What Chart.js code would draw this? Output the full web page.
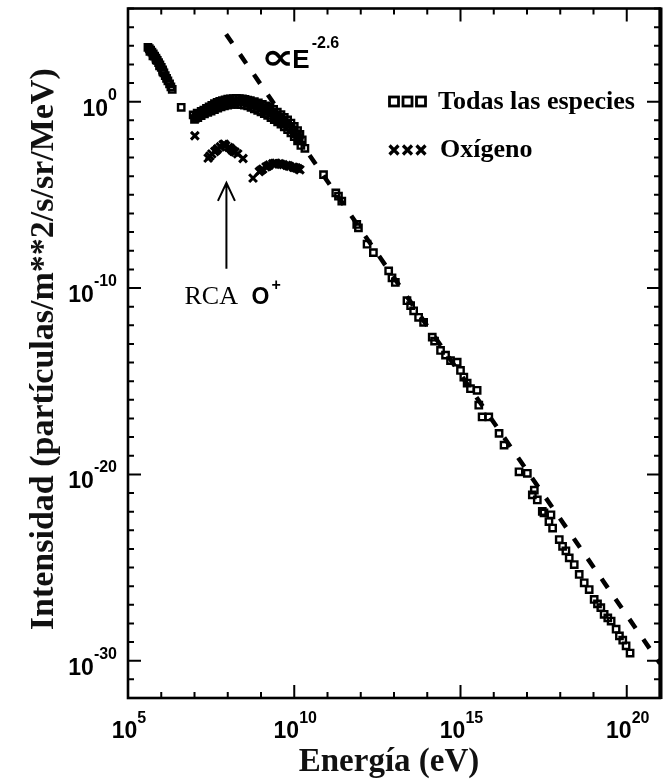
<!DOCTYPE html>
<html>
<head>
<meta charset="utf-8">
<title>Espectro de rayos cósmicos</title>
<script src="https://cdn.jsdelivr.net/npm/chart.js@4.4.0/dist/chart.umd.min.js"></script>
<style>
  html, body { margin: 0; padding: 0; background: #fff; }
  canvas { display: block; }
</style>
</head>
<body>
<canvas id="spectrumChart" width="669" height="782"></canvas>
<script>
// Spectrum values kept as base-10 exponents: log10(E / eV) and log10(intensity)
const allSpeciesLogE = [
  // low-energy side
  5.60, 5.64, 5.68, 5.72, 5.76, 5.80, 5.84, 5.88, 5.92, 5.96, 6.00, 6.04, 6.08, 6.12,
  6.16, 6.20, 6.25, 6.29, 6.33, 5.66, 5.75, 5.85, 5.95, 6.05, 6.60,
  // bump, upper run
  6.96, 7.03, 7.08, 7.15, 7.20, 7.28, 7.36, 7.44, 7.52, 7.60, 7.68, 7.76, 7.84, 7.92,
  8.00, 8.08, 8.17, 8.26, 8.35, 8.44, 8.52, 8.60, 8.68, 8.80, 8.92, 9.04, 9.16, 9.27,
  9.38, 9.49, 9.60, 9.70, 9.80, 9.90, 10.00, 10.10, 10.17, 10.24, 10.32,
  // bump, middle run
  7.05, 7.15, 7.25, 7.35, 7.45, 7.55, 7.65, 7.75, 7.85, 7.95, 8.05, 8.15, 8.25, 8.35,
  8.45, 8.55, 8.65, 8.75, 8.85, 8.95, 9.05, 9.15, 9.25, 9.35, 9.45, 9.55, 9.65, 9.75,
  9.85, 9.95, 10.05, 10.15,
  // bump, lower run
  7.00, 7.10, 7.20, 7.30, 7.40, 7.50, 7.60, 7.70, 7.80, 7.90, 8.00, 8.10, 8.20, 8.30,
  8.40, 8.50, 8.60, 8.70, 8.80, 8.90, 9.00, 9.10, 9.20, 9.30, 9.40, 9.50, 9.60, 9.70,
  9.80, 9.90, 10.00, 10.10, 10.20,
  // high-energy power law
  10.88, 11.25, 11.33, 11.43, 11.88, 11.93, 12.19, 12.38, 12.84, 12.94, 13.04, 13.39,
  13.50, 13.59, 13.74, 13.89, 14.15, 14.22, 14.40, 14.55, 14.70, 14.90, 15.00, 15.10,
  15.20, 15.30, 15.50, 15.55, 15.65, 15.85, 16.16, 16.31, 16.76, 17.01, 17.16, 17.22,
  17.31, 17.46, 17.51, 17.66, 17.72, 17.77, 17.97, 18.07, 18.17, 18.27, 18.42, 18.57,
  18.72, 18.87, 19.02, 19.12, 19.22, 19.32, 19.43, 19.53, 19.68, 19.78, 19.88, 19.98, 20.10
];
const allSpeciesLogI = [
  2.92, 2.84, 2.76, 2.66, 2.56, 2.45, 2.34, 2.22, 2.10, 1.97, 1.84, 1.70, 1.55, 1.40,
  1.25, 1.12, 0.95, 0.80, 0.66, 2.70, 2.46, 2.24, 1.92, 1.60, -0.30,
  -0.71, -0.88, -0.62, -0.72, -0.52, -0.45, -0.36, -0.28, -0.20, -0.10, -0.04, 0.02, 0.06, 0.10,
  0.13, 0.15, 0.17, 0.18, 0.17, 0.15, 0.12, 0.08, 0.05, 0.00, -0.07, -0.14, -0.22, -0.30,
  -0.42, -0.56, -0.70, -0.84, -0.98, -1.15, -1.33, -1.55, -1.75, -2.05, -2.50,
  -0.82, -0.72, -0.62, -0.54, -0.46, -0.38, -0.30, -0.22, -0.15, -0.09, -0.05, -0.02, 0.00, 0.01,
  0.00, -0.02, -0.06, -0.12, -0.18, -0.25, -0.33, -0.42, -0.52, -0.63, -0.75, -0.88, -1.02, -1.17,
  -1.33, -1.52, -1.73, -1.98,
  -0.95, -0.85, -0.75, -0.65, -0.58, -0.50, -0.42, -0.35, -0.28, -0.22, -0.18, -0.15, -0.14, -0.14,
  -0.16, -0.19, -0.23, -0.30, -0.38, -0.46, -0.55, -0.64, -0.74, -0.85, -0.96, -1.08, -1.20, -1.35,
  -1.50, -1.68, -1.88, -2.10, -2.35,
  -3.92, -4.90, -5.07, -5.34, -6.59, -6.77, -7.65, -8.10, -9.08, -9.45, -9.70, -10.68,
  -10.95, -11.22, -11.57, -11.84, -12.64, -12.85, -13.35, -13.60, -13.89, -13.98, -14.42, -14.78,
  -15.10, -15.40, -15.49, -16.29, -16.92, -16.92, -17.80, -18.43, -19.86, -19.94, -21.10, -20.85,
  -21.37, -21.99, -22.07, -22.53, -22.17, -22.88, -23.50, -23.86, -24.10, -24.48, -24.84, -25.37,
  -25.82, -26.18, -26.71, -26.95, -27.15, -27.51, -27.70, -27.87, -28.31, -28.67, -28.90, -29.20, -29.59
];
const oxygenLogE = [
  7.01, 7.41, 7.46, 7.52, 7.61, 7.66, 7.70, 7.78, 7.86, 7.90, 7.94, 8.03, 8.08, 8.12,
  8.17, 8.22, 8.30, 8.46,
  8.76, 8.95, 9.00, 9.05, 9.15, 9.20, 9.25, 9.35, 9.40, 9.45, 9.55, 9.60, 9.67, 9.77,
  9.82, 9.87, 9.97, 10.02, 10.07, 10.12, 10.17
];
const oxygenLogI = [
  -1.83, -3.03, -2.92, -2.80, -2.67, -2.60, -2.52, -2.42, -2.30, -2.28, -2.36, -2.45, -2.50, -2.58,
  -2.66, -2.70, -2.80, -3.05,
  -4.10, -3.75, -3.68, -3.62, -3.50, -3.46, -3.40, -3.33, -3.32, -3.30, -3.33, -3.36, -3.38, -3.42,
  -3.44, -3.47, -3.52, -3.54, -3.56, -3.60, -3.65
];
// E^-2.6 reference line, its two ends
const powerLawLogE = [7.95, 21.0];
const powerLawLogI = [3.62, -30.15];

const xMajorExps = [5, 10, 15, 20];
const yMajorExps = [0, -10, -20, -30];
const seriesLabels = ['Todas las especies', 'Oxígeno'];
const xTitle = 'Energía (eV)';
const yTitle = 'Intensidad (partículas/m**2/s/sr/MeV)';

const toPoints = (es, is) => es.map((e, i) => ({ x: 10 ** e, y: 10 ** is[i] }));

const SANS = '"Liberation Sans", Arial, sans-serif';
const SERIF = '"Liberation Serif", "Times New Roman", serif';

// Boxed frame with inward ticks, power-of-ten labels, titles, legend and notes
const framePlugin = {
  id: 'frame',
  afterDraw(chart) {
    const { ctx, chartArea: a, scales: { x, y } } = chart;
    const px = (le) => x.getPixelForValue(10 ** le);
    const py = (li) => y.getPixelForValue(10 ** li);
    ctx.save();
    ctx.strokeStyle = '#000';
    ctx.fillStyle = '#000';

    // ticks on all four sides, one per decade
    ctx.lineWidth = 2;
    ctx.beginPath();
    for (let e = 5; e <= 21; e++) {
      const X = px(e);
      const len = xMajorExps.includes(e) ? 13 : 6;
      ctx.moveTo(X, a.bottom); ctx.lineTo(X, a.bottom - len);
      ctx.moveTo(X, a.top); ctx.lineTo(X, a.top + len);
    }
    for (let e = -32; e <= 5; e++) {
      const Y = py(e);
      const len = yMajorExps.includes(e) ? 13 : 6;
      ctx.moveTo(a.left, Y); ctx.lineTo(a.left + len, Y);
      ctx.moveTo(a.right, Y); ctx.lineTo(a.right - len, Y);
    }
    ctx.stroke();

    ctx.lineWidth = 2.6;
    ctx.strokeRect(a.left, a.top, a.right - a.left, a.bottom - a.top);
    ctx.lineWidth = 4;
    ctx.beginPath();
    ctx.moveTo(a.right + 0.5, a.top - 1); ctx.lineTo(a.right + 0.5, a.bottom + 1);
    ctx.stroke();

    // tick labels 10^n
    const baseFont = 'bold 23px ' + SANS;
    const supFont = 'bold 16px ' + SANS;
    ctx.textBaseline = 'alphabetic';
    xMajorExps.forEach((e) => {
      const X = px(e);
      ctx.font = baseFont; const wb = ctx.measureText('10').width;
      ctx.font = supFont; const ws = ctx.measureText(String(e)).width;
      const x0 = X - (wb + ws) / 2 + 1;
      ctx.textAlign = 'left';
      ctx.font = baseFont; ctx.fillText('10', x0, a.bottom + 40);
      ctx.font = supFont; ctx.fillText(String(e), x0 + wb, a.bottom + 25);
    });
    yMajorExps.forEach((e) => {
      const Y = py(e);
      ctx.textAlign = 'right';
      ctx.font = supFont; const ws = ctx.measureText(String(e)).width;
      ctx.fillText(String(e), a.left - 11, Y - 2);
      ctx.font = baseFont; ctx.fillText('10', a.left - 11 - ws, Y + 14);
    });

    // axis titles
    ctx.fillStyle = '#111';
    ctx.textAlign = 'center';
    ctx.font = 'bold 33px ' + SERIF;
    ctx.fillText(xTitle, (a.left + a.right) / 2 - 5, a.bottom + 73);
    ctx.save();
    ctx.translate(a.left - 75, (a.top + a.bottom) / 2 - 4);
    ctx.rotate(-Math.PI / 2);
    ctx.font = 'bold 34px ' + SERIF;
    ctx.fillText(yTitle, 0, 0);
    ctx.restore();
    ctx.fillStyle = '#000';

    // legend
    const lx = a.right - 272;
    const rowSq = a.top + 93;
    const rowX = a.top + 141.5;
    for (let k = 0; k < 3; k++) {
      const cx = lx + 6 + k * 13.5;
      ctx.lineWidth = 2.8;
      ctx.strokeRect(cx - 4.5, rowSq - 4.5, 9, 9);
      ctx.lineWidth = 3.2;
      ctx.beginPath();
      ctx.moveTo(cx - 4.5, rowX - 4.5); ctx.lineTo(cx + 4.5, rowX + 4.5);
      ctx.moveTo(cx + 4.5, rowX - 4.5); ctx.lineTo(cx - 4.5, rowX + 4.5);
      ctx.stroke();
    }
    ctx.textAlign = 'left';
    ctx.font = 'bold 26px ' + SERIF;
    ctx.fillText(seriesLabels[0], a.right - 222, a.top + 100);
    ctx.fillText(seriesLabels[1], a.right - 220, a.top + 148.5);

    // proportionality note next to the dashed line
    const sx = px(9.06), sy = py(1.82);
    ctx.font = 'bold 36px "DejaVu Sans", sans-serif';
    const wProp = ctx.measureText('∝').width * 1.3;
    ctx.save();
    ctx.translate(sx - 2, sy + 1);
    ctx.scale(1.3, 1);
    ctx.fillText('∝', 0, 0);
    ctx.restore();
    ctx.font = 'bold 26px ' + SANS;
    ctx.fillText('E', sx + wProp - 4, sy);
    const wE = ctx.measureText('E').width;
    ctx.font = 'bold 16px ' + SANS;
    ctx.fillText('-2.6', sx + wProp + wE - 2, sy - 20);

    // anomalous component marker
    const ax = px(7.96);
    const tipY = py(-4.36), tailY = py(-8.97);
    ctx.lineWidth = 2;
    ctx.beginPath();
    ctx.moveTo(ax, tailY); ctx.lineTo(ax, tipY);
    ctx.moveTo(ax - 8.5, tipY + 18); ctx.lineTo(ax, tipY); ctx.lineTo(ax + 8.5, tipY + 18);
    ctx.stroke();

    const rx = px(6.70), ry = py(-10.84);
    ctx.font = '26px ' + SERIF;
    ctx.fillText('RCA', rx, ry);
    ctx.font = 'bold 23px ' + SANS;
    ctx.fillText('O', rx + 67, ry);
    ctx.font = 'bold 16px ' + SANS;
    ctx.fillText('+', rx + 87, ry - 14);

    ctx.restore();
  }
};

new Chart(document.getElementById('spectrumChart'), {
  type: 'scatter',
  data: {
    datasets: [
      {
        label: seriesLabels[0],
        data: toPoints(allSpeciesLogE, allSpeciesLogI),
        pointStyle: 'rect',
        pointRadius: 4.5,
        pointBorderWidth: 2.4,
        pointBorderColor: '#000',
        pointBackgroundColor: 'rgba(255,255,255,0)'
      },
      {
        label: seriesLabels[1],
        data: toPoints(oxygenLogE, oxygenLogI),
        pointStyle: 'crossRot',
        pointRadius: 5.5,
        pointBorderWidth: 3,
        pointBorderColor: '#000'
      },
      {
        label: 'E^-2.6',
        data: toPoints(powerLawLogE, powerLawLogI),
        showLine: true,
        pointRadius: 0,
        borderColor: '#000',
        borderWidth: 4.5,
        borderDash: [11, 13.5],
        fill: false
      }
    ]
  },
  options: {
    responsive: false,
    animation: false,
    events: [],
    layout: { padding: { left: 128, top: 7, right: 9, bottom: 84 } },
    scales: {
      x: { type: 'logarithmic', min: 1e5, max: 1e21, display: false },
      y: { type: 'logarithmic', min: 1e-32, max: 1e5, display: false }
    },
    plugins: {
      legend: { display: false },
      tooltip: { enabled: false }
    }
  },
  plugins: [framePlugin]
});
</script>
</body>
</html>
